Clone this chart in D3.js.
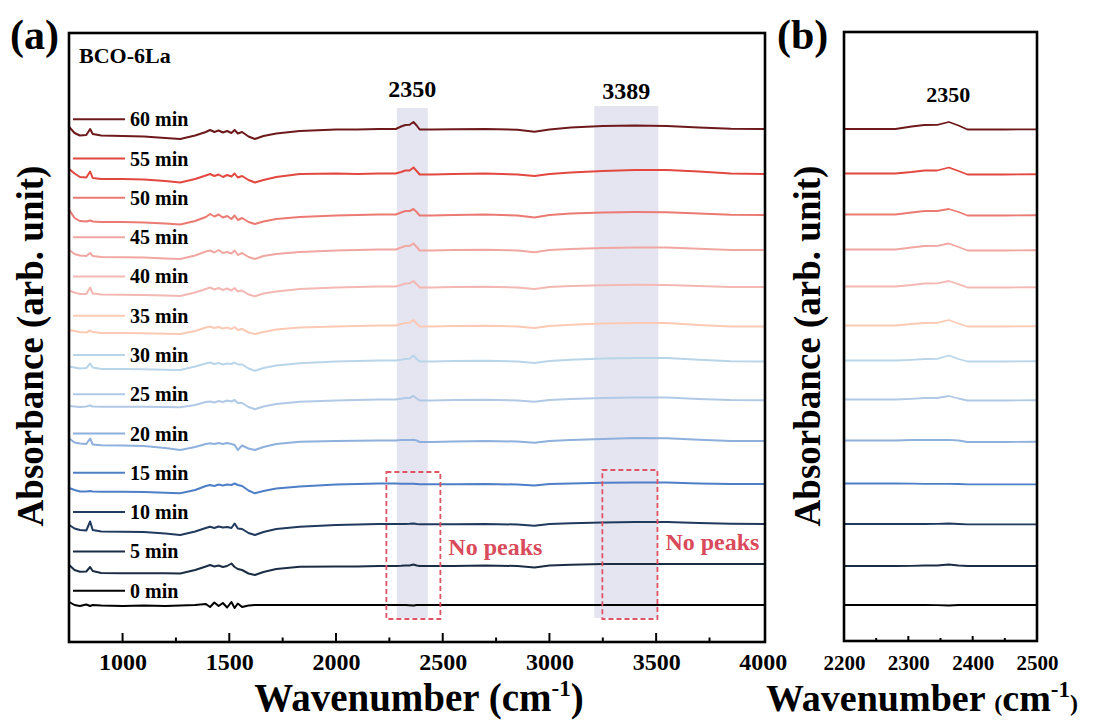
<!DOCTYPE html>
<html>
<head>
<meta charset="utf-8">
<script src="https://cdn.jsdelivr.net/npm/d3@7"></script>
<style>
  body { margin: 0; background: #fff; }
  text { font-family: "Liberation Serif", "Times New Roman", serif; font-weight: bold; }
</style>
</head>
<body>
<div id="chart"></div>
<script>
// shared wavenumber grid (cm-1)
const wavenumbers = [750, 775, 800, 830, 848, 860, 900, 1000, 1100, 1200, 1270, 1340, 1390, 1410, 1430, 1450, 1470, 1490, 1510, 1525,
  1540, 1560, 1590, 1620, 1660, 1720, 1830, 2000, 2100, 2200, 2280, 2305, 2325, 2345, 2363, 2378, 2392, 2450, 2550, 2700,
  2850, 2930, 3000, 3100, 3250, 3400, 3550, 3700, 3850, 4010];

const labels = ["60 min", "55 min", "50 min", "45 min", "40 min", "35 min", "30 min", "25 min", "20 min", "15 min", "10 min", "5 min", "0 min"];
const colors = ["#6e1a1c", "#e2483f", "#ea7a72", "#f0a7a2", "#f3b8b3", "#fccab4", "#b9d5ea", "#b1c9e6", "#8eb0dc", "#4e7fc6", "#203a5e", "#1b2d44", "#000000"];
// vertical stacking offset of every spectrum (arb. unit)
const offsets = [51.3, 46.8, 42.7, 39.2, 35.5, 31.6, 28.1, 24.2, 20.1, 15.8, 11.8, 7.8, 3.7];

// absorbance relative to each offset
const s60 = [0.2, -0.4, -0.65, -0.6, 0.0, -0.5, -0.65, -0.7, -0.75, -0.9, -1.0, -0.65, -0.3, -0.1, -0.3, -0.15, -0.35, -0.2, -0.4, -0.1,
  -0.45, -0.3, -0.75, -1.0, -0.7, -0.45, -0.2, -0.05, -0.05, 0.0, 0.0, 0.25, 0.4, 0.42, 0.7, 0.35, -0.05, -0.05, -0.02, 0.0,
  -0.08, -0.28, -0.05, 0.15, 0.3, 0.35, 0.3, 0.15, 0.02, 0.0];
const s55 = [0.5, 0.05, -0.3, -0.35, 0.25, -0.4, -0.5, -0.5, -0.55, -0.7, -0.85, -0.5, -0.15, 0.0, -0.2, -0.05, -0.3, -0.1, -0.25, 0.05,
  -0.35, -0.2, -0.6, -0.85, -0.6, -0.3, 0.0, 0.05, 0.0, 0.05, 0.05, 0.2, 0.35, 0.35, 0.65, 0.3, -0.05, -0.05, 0.0, 0.05,
  -0.05, -0.2, 0.0, 0.15, 0.3, 0.4, 0.4, 0.25, 0.05, 0.0];
const s50 = [0.5, -0.3, -0.6, -0.65, -0.55, -0.65, -0.7, -0.7, -0.75, -0.85, -0.95, -0.6, -0.2, 0.1, -0.15, 0.05, -0.25, -0.1, -0.4, -0.05,
  -0.5, -0.3, -0.7, -0.9, -0.65, -0.4, -0.2, -0.05, 0.0, 0.05, 0.05, 0.25, 0.4, 0.4, 0.6, 0.3, -0.05, -0.05, 0.0, 0.05,
  -0.05, -0.25, 0.0, 0.15, 0.25, 0.3, 0.28, 0.15, 0.02, 0.0];
const s45 = [0.0, -0.4, -0.55, -0.6, -0.3, -0.6, -0.7, -0.72, -0.75, -0.85, -0.9, -0.55, -0.15, -0.05, -0.25, 0.0, -0.3, -0.2, -0.35, -0.05,
  -0.5, -0.3, -0.7, -0.9, -0.6, -0.4, -0.2, -0.05, 0.0, 0.05, 0.05, 0.25, 0.4, 0.42, 0.65, 0.3, -0.05, -0.05, 0.0, 0.02,
  -0.05, -0.22, 0.0, 0.1, 0.2, 0.25, 0.25, 0.12, 0.0, 0.0];
const s40 = [-0.35, -0.55, -0.7, -0.7, -0.05, -0.65, -0.75, -0.77, -0.8, -0.85, -0.9, -0.55, -0.2, -0.05, -0.25, -0.1, -0.3, -0.15, -0.35, -0.1,
  -0.45, -0.35, -0.75, -0.93, -0.65, -0.45, -0.2, -0.05, 0.0, 0.05, 0.05, 0.2, 0.35, 0.37, 0.6, 0.28, -0.05, -0.05, 0.0, 0.02,
  -0.05, -0.2, 0.0, 0.1, 0.18, 0.22, 0.2, 0.1, 0.0, 0.0];
const s35 = [-0.4, -0.5, -0.6, -0.65, -0.45, -0.6, -0.7, -0.7, -0.72, -0.78, -0.8, -0.5, -0.15, -0.05, -0.2, -0.1, -0.25, -0.15, -0.3, -0.1,
  -0.4, -0.3, -0.65, -0.8, -0.6, -0.35, -0.15, -0.05, 0.0, 0.05, 0.05, 0.2, 0.3, 0.32, 0.6, 0.25, -0.05, -0.05, 0.0, 0.02,
  -0.05, -0.2, 0.0, 0.12, 0.25, 0.3, 0.3, 0.1, -0.05, -0.05];
const s30 = [-0.55, -0.65, -0.75, -0.7, -0.25, -0.65, -0.8, -0.8, -0.82, -0.88, -0.9, -0.55, -0.25, -0.15, -0.3, -0.2, -0.35, -0.25, -0.3, -0.15,
  -0.35, -0.35, -0.75, -0.97, -0.7, -0.45, -0.23, -0.05, 0.0, 0.05, 0.05, 0.12, 0.2, 0.22, 0.55, 0.2, -0.05, -0.05, 0.0, 0.02,
  -0.05, -0.2, 0.0, 0.12, 0.25, 0.3, 0.3, 0.12, -0.02, -0.05];
const s25 = [-0.6, -0.65, -0.7, -0.65, -0.55, -0.65, -0.67, -0.67, -0.68, -0.7, -0.72, -0.5, -0.2, -0.15, -0.25, -0.1, -0.2, -0.05, -0.15, 0.0,
  -0.3, -0.3, -0.7, -0.93, -0.65, -0.4, -0.17, -0.05, 0.0, 0.05, 0.05, 0.12, 0.2, 0.2, 0.4, 0.15, -0.05, -0.05, 0.0, 0.02,
  -0.05, -0.18, 0.0, 0.1, 0.2, 0.25, 0.25, 0.1, 0.0, -0.03];
const s20 = [0.25, -0.15, -0.25, -0.3, 0.25, -0.35, -0.43, -0.45, -0.5, -0.7, -0.9, -0.6, -0.3, -0.23, -0.3, -0.2, -0.3, -0.2, -0.3, -0.4,
  -0.9, -0.45, -0.75, -0.9, -0.6, -0.3, -0.07, 0.0, 0.02, 0.05, 0.05, 0.1, 0.1, 0.1, 0.12, 0.05, -0.1, -0.1, -0.05, 0.0,
  -0.05, -0.18, 0.0, 0.1, 0.2, 0.3, 0.28, 0.12, 0.0, 0.0];
const s15 = [-0.4, -0.6, -0.75, -0.75, -0.7, -0.75, -0.77, -0.77, -0.8, -0.88, -0.93, -0.6, -0.2, -0.1, -0.2, -0.05, -0.15, -0.05, -0.1, 0.05,
  -0.1, -0.2, -0.65, -0.93, -0.7, -0.45, -0.25, -0.05, 0.0, 0.05, 0.05, 0.03, 0.02, 0.02, 0.02, 0.0, -0.03, -0.03, -0.03, 0.0,
  -0.05, -0.15, 0.0, 0.05, 0.12, 0.15, 0.15, 0.05, 0.0, 0.0];
const s10 = [-0.1, -0.45, -0.6, -0.65, 0.25, -0.6, -0.75, -0.77, -0.8, -0.95, -1.1, -0.75, -0.4, -0.27, -0.4, -0.25, -0.35, -0.3, -0.4, 0.05,
  -0.45, -0.5, -0.9, -1.1, -0.8, -0.5, -0.27, -0.1, -0.05, 0.0, 0.0, 0.0, 0.0, 0.02, 0.05, 0.0, -0.03, -0.03, -0.03, 0.0,
  -0.05, -0.18, 0.0, 0.08, 0.15, 0.2, 0.2, 0.1, 0.02, 0.0];
const s5 = [-0.1, -0.6, -0.77, -0.75, -0.3, -0.7, -0.9, -0.93, -0.93, -0.93, -0.95, -0.6, -0.25, -0.1, -0.25, -0.15, -0.3, -0.2, 0.05, -0.3,
  -0.5, -0.6, -0.95, -1.1, -0.8, -0.5, -0.27, -0.25, -0.25, -0.2, -0.2, -0.18, -0.15, -0.15, -0.05, -0.15, -0.2, -0.2, -0.2, -0.15,
  -0.2, -0.35, -0.15, -0.08, 0.0, 0.0, 0.0, 0.0, 0.0, 0.0];
const s0 = [0.3, 0.0, -0.1, 0.05, -0.1, 0.0, -0.05, -0.1, -0.05, -0.1, -0.05, 0.0, 0.1, -0.2, 0.25, -0.1, 0.2, -0.25, 0.3, -0.3,
  0.15, -0.2, -0.05, 0.0, 0.0, 0.0, 0.0, 0.0, 0.0, 0.0, 0.0, 0.0, 0.0, -0.02, -0.05, 0.0, 0.0, 0.0, 0.0, 0.0,
  0.0, 0.0, 0.0, 0.0, 0.0, 0.0, 0.0, 0.0, 0.0, 0.0];

const spectra = [s60, s55, s50, s45, s40, s35, s30, s25, s20, s15, s10, s5, s0];

const bands = [[2285, 2430], [3210, 3510]];
const bandLabels = ["2350", "3389"];
const noPeakBoxes = [[2236, 2489], [3248, 3506]];

const W = 1094, H = 720;
const A = {left: 69, right: 765, top: 33, bottom: 642};
const B = {left: 844, right: 1037, top: 32, bottom: 641};
const FONT = '"Liberation Serif", "Times New Roman", serif';

const svg = d3.select("#chart").append("svg")
  .attr("width", W).attr("height", H);

const y = d3.scaleLinear().domain([0, 60.9]).range([A.bottom, A.top]);
const xa = d3.scaleLinear().domain([749, 4010]).range([A.left, A.right]);
const xb = d3.scaleLinear().domain([2200, 2500]).range([B.left, B.right]);

const defs = svg.append("defs");
defs.append("clipPath").attr("id", "clipA").append("rect")
  .attr("x", A.left).attr("y", A.top).attr("width", A.right - A.left).attr("height", A.bottom - A.top);
defs.append("clipPath").attr("id", "clipB").append("rect")
  .attr("x", B.left).attr("y", B.top).attr("width", B.right - B.left).attr("height", B.bottom - B.top);

function series(i) {
  return wavenumbers.map((w, j) => ({w: w, v: offsets[i] + spectra[i][j]}));
}

// ---------- panel (a)
const ga = svg.append("g");
const plotA = ga.append("g").attr("clip-path", "url(#clipA)");

plotA.selectAll("rect.band").data(bands).enter().append("rect")
  .attr("class", "band")
  .attr("x", d => xa(d[0]))
  .attr("width", d => xa(d[1]) - xa(d[0]))
  .attr("y", (d, i) => i === 0 ? 108 : 106)
  .attr("height", (d, i) => 618 - (i === 0 ? 108 : 106))
  .attr("fill", "#e5e5f1");

const lineA = d3.line().x(d => xa(d.w)).y(d => y(d.v));
plotA.selectAll("path.spec").data(spectra).enter().append("path")
  .attr("class", "spec")
  .attr("d", (d, i) => lineA(series(i)))
  .attr("fill", "none")
  .attr("stroke", (d, i) => colors[i])
  .attr("stroke-width", 2)
  .attr("stroke-linejoin", "round");

// dashed boxes
ga.selectAll("rect.nopk").data(noPeakBoxes).enter().append("rect")
  .attr("class", "nopk")
  .attr("x", d => xa(d[0]))
  .attr("width", d => xa(d[1]) - xa(d[0]))
  .attr("y", (d, i) => i === 0 ? 472 : 470)
  .attr("height", (d, i) => 619 - (i === 0 ? 472 : 470))
  .attr("fill", "none")
  .attr("stroke", "#e05566")
  .attr("stroke-width", 1.8)
  .attr("stroke-dasharray", "5,3");

ga.selectAll("text.nopk").data(noPeakBoxes).enter().append("text")
  .attr("class", "nopk")
  .attr("x", d => xa(d[1]) + 8)
  .attr("y", (d, i) => i === 0 ? 555 : 550)
  .attr("fill", "#d94a5a")
  .style("font-size", "24px")
  .text("No peaks");

ga.selectAll("text.bandlab").data(bands).enter().append("text")
  .attr("class", "bandlab")
  .attr("x", d => xa((d[0] + d[1]) / 2))
  .attr("y", (d, i) => i === 0 ? 97 : 99)
  .attr("text-anchor", "middle")
  .style("font-size", "24px")
  .text((d, i) => bandLabels[i]);

// legend
const leg = ga.append("g");
labels.forEach((lab, i) => {
  const ly = 119.3 + i * 39.28;
  leg.append("line").attr("x1", 73).attr("x2", 125).attr("y1", ly).attr("y2", ly)
    .attr("stroke", colors[i]).attr("stroke-width", 2);
  leg.append("text").attr("x", 130).attr("y", ly + 7).style("font-size", "20px").text(lab);
});

ga.append("text").attr("x", 79).attr("y", 63).style("font-size", "22px").text("BCO-6La");

// x axis (a)
const axA = d3.axisBottom(xa).tickValues([1000, 1500, 2000, 2500, 3000, 3500, 4000])
  .tickSize(0).tickPadding(0).tickFormat(d3.format("d"));
const axAG = ga.append("g").attr("transform", `translate(0,${A.bottom})`).call(axA);
axAG.select(".domain").remove();
axAG.selectAll("text").attr("y", 28).attr("dy", 0)
  .style("font-size", "24px").style("font-family", FONT).style("font-weight", "bold").attr("fill", "#000");

ga.selectAll("line.maj").data([1000, 1500, 2000, 2500, 3000, 3500]).enter().append("line")
  .attr("x1", d => xa(d)).attr("x2", d => xa(d)).attr("y1", A.bottom).attr("y2", A.bottom - 9)
  .attr("stroke", "#000").attr("stroke-width", 2);
ga.selectAll("line.min").data([1250, 1750, 2250, 2750, 3250, 3750]).enter().append("line")
  .attr("x1", d => xa(d)).attr("x2", d => xa(d)).attr("y1", A.bottom).attr("y2", A.bottom - 4.5)
  .attr("stroke", "#000").attr("stroke-width", 2);

ga.append("rect").attr("x", A.left).attr("y", A.top)
  .attr("width", A.right - A.left).attr("height", A.bottom - A.top)
  .attr("fill", "none").attr("stroke", "#000").attr("stroke-width", 2.6);

ga.append("text").attr("x", 10).attr("y", 49).style("font-size", "42px").text("(a)");

ga.append("text").attr("transform", "translate(43,346) rotate(-90)")
  .attr("text-anchor", "middle").style("font-size", "37px").text("Absorbance (arb. unit)");

const xtA = ga.append("text").attr("x", 419).attr("y", 711).attr("text-anchor", "middle").style("font-size", "39px");
xtA.append("tspan").text("Wavenumber (cm");
xtA.append("tspan").attr("dy", -15).style("font-size", "23px").text("-1");
xtA.append("tspan").attr("dy", 15).text(")");

// ---------- panel (b)
const gb = svg.append("g");
const plotB = gb.append("g").attr("clip-path", "url(#clipB)");
const lineB = d3.line().x(d => xb(d.w)).y(d => y(d.v));
plotB.selectAll("path.spec").data(spectra).enter().append("path")
  .attr("class", "spec")
  .attr("d", (d, i) => lineB(series(i)))
  .attr("fill", "none")
  .attr("stroke", (d, i) => colors[i])
  .attr("stroke-width", 1.8)
  .attr("stroke-linejoin", "round");

gb.append("text").attr("x", xb(2362)).attr("y", 102).attr("text-anchor", "middle")
  .style("font-size", "22px").text("2350");

const axB = d3.axisBottom(xb).tickValues([2200, 2300, 2400, 2500])
  .tickSize(0).tickPadding(0).tickFormat(d3.format("d"));
const axBG = gb.append("g").attr("transform", `translate(0,${B.bottom})`).call(axB);
axBG.select(".domain").remove();
axBG.selectAll("text").attr("y", 29).attr("dy", 0)
  .style("font-size", "21px").style("font-family", FONT).style("font-weight", "bold").attr("fill", "#000");

gb.selectAll("line.maj").data([2300, 2400]).enter().append("line")
  .attr("x1", d => xb(d)).attr("x2", d => xb(d)).attr("y1", B.bottom).attr("y2", B.bottom - 5)
  .attr("stroke", "#000").attr("stroke-width", 2);
gb.selectAll("line.min").data([2250, 2350, 2450]).enter().append("line")
  .attr("x1", d => xb(d)).attr("x2", d => xb(d)).attr("y1", B.bottom).attr("y2", B.bottom - 3)
  .attr("stroke", "#000").attr("stroke-width", 2);

gb.append("rect").attr("x", B.left).attr("y", B.top)
  .attr("width", B.right - B.left).attr("height", B.bottom - B.top)
  .attr("fill", "none").attr("stroke", "#000").attr("stroke-width", 2.6);

gb.append("text").attr("x", 777).attr("y", 49).style("font-size", "42px").text("(b)");

gb.append("text").attr("transform", "translate(820,346) rotate(-90)")
  .attr("text-anchor", "middle").style("font-size", "37px").text("Absorbance (arb. unit)");

const xtB = gb.append("text").attr("x", 922).attr("y", 711).attr("text-anchor", "middle").style("font-size", "38px");
xtB.append("tspan").text("Wavenumber ");
xtB.append("tspan").style("font-size", "24px").text("(");
xtB.append("tspan").text("cm");
xtB.append("tspan").attr("dy", -14).style("font-size", "23px").text("-1");
xtB.append("tspan").attr("dy", 14).style("font-size", "24px").text(")");
</script>
</body>
</html>
